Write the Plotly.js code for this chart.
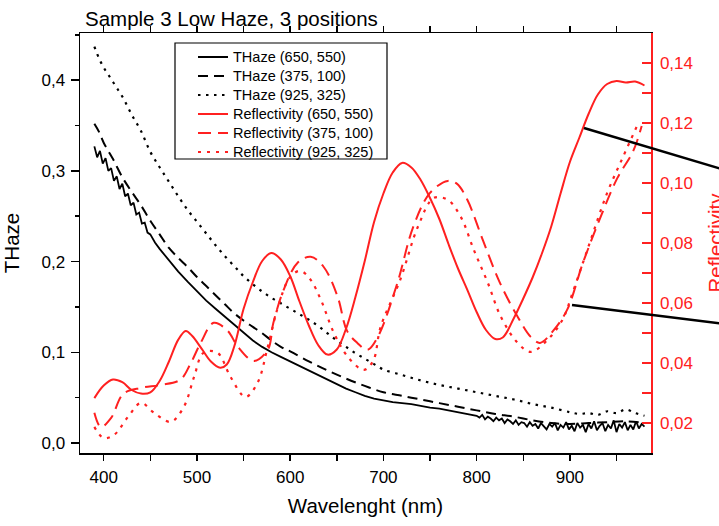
<!DOCTYPE html>
<html>
<head>
<meta charset="utf-8">
<script src="https://cdn.plot.ly/plotly-3.0.1.min.js"></script>
<style>
  html, body { margin: 0; padding: 0; background: #ffffff; overflow: hidden; }
  #chart { width: 730px; height: 526px; }
</style>
</head>
<body>
<div id="chart"></div>
<script>
// ---------- Data ----------
// THaze (650, 550) - solid black, noisy at both ends
const wlHazeSolid = [390,393,396,399,402,405,408,411,414,417,420,423,426,429,432,435,438,441,444,447,450,455,460,
  470,480,490,500,510,520,530,540,550,560,570,580,590,600,610,620,630,640,650,660,670,680,690,700,710,720,730,740,
  750,760,770,780,790,800,803,806,809,812,815,818,821,824,827,830,833,836,839,842,845,848,851,854,857,860,863,866,
  869,872,875,878,881,884,887,890,893,896,899,902,905,908,911,914,917,920,923,926,929,932,935,938,941,944,947,950,
  953,956,959,962,965,968,971,974,977,980];
const hazeSolid = [0.327,0.315,0.322,0.308,0.314,0.300,0.303,0.289,0.294,0.280,0.286,0.272,0.275,0.262,0.265,0.252,0.254,0.242,0.243,0.232,0.230,0.221,0.214,
  0.201,0.189,0.178,0.167,0.157,0.148,0.139,0.130,0.121,0.113,0.106,0.100,0.095,0.090,0.085,0.080,0.075,0.070,0.065,0.060,0.056,0.052,0.049,0.047,0.045,0.044,0.043,0.041,
  0.039,0.038,0.036,0.034,0.032,0.030,0.028,0.031,0.026,0.029,0.027,0.024,0.028,0.025,0.027,0.022,0.026,0.024,0.021,0.025,0.020,0.023,0.022,0.018,0.023,0.019,0.021,0.016,
  0.022,0.019,0.015,0.021,0.018,0.022,0.014,0.020,0.017,0.023,0.015,0.019,0.013,0.022,0.017,0.020,0.012,0.021,0.016,0.024,0.014,0.019,0.022,0.013,0.020,0.016,0.025,0.012,
  0.021,0.017,0.023,0.014,0.020,0.015,0.024,0.016,0.021,0.018];

// THaze (375, 100) - dashed black
const wlHazeDash = [390,395,400,405,410,420,430,440,450,460,470,480,490,500,510,520,530,540,550,560,570,580,590,600,
  620,640,660,680,700,720,740,760,780,800,820,840,860,880,900,920,940,960,980];
const hazeDash = [0.352,0.343,0.331,0.322,0.313,0.293,0.277,0.262,0.245,0.230,0.215,0.204,0.194,0.183,0.173,0.163,0.153,0.143,0.135,0.128,0.121,0.113,0.106,0.101,
  0.090,0.080,0.071,0.063,0.056,0.052,0.048,0.044,0.040,0.036,0.032,0.029,0.025,0.022,0.021,0.022,0.023,0.024,0.022];

// THaze (925, 325) - dotted black
const wlHazeDot = [390,395,400,405,410,415,420,430,440,450,460,470,480,490,500,510,520,530,540,550,560,570,580,590,600,
  610,620,630,640,650,660,670,680,690,700,720,740,760,780,800,820,840,860,880,900,910,920,930,940,950,960,970,980];
const hazeDot = [0.437,0.424,0.414,0.406,0.398,0.390,0.382,0.362,0.344,0.321,0.304,0.288,0.272,0.257,0.244,0.231,0.218,0.206,0.195,0.184,0.175,0.167,0.160,0.154,0.148,
  0.142,0.136,0.129,0.121,0.113,0.106,0.099,0.093,0.087,0.081,0.075,0.069,0.064,0.060,0.056,0.052,0.048,0.043,0.039,0.034,0.032,0.033,0.031,0.035,0.033,0.037,0.033,0.030];

// Reflectivity (650, 550) - solid red
const wlReflSolid = [390,400,410,420,430,440,450,460,470,480,488,495,505,515,525,532,540,550,560,570,580,590,600,610,620,630,640,650,
  660,670,680,690,700,710,720,730,740,750,760,770,780,790,800,810,820,828,840,850,860,870,880,890,900,910,920,930,940,950,960,970,980];
const reflSolid = [0.0283,0.0325,0.0345,0.0336,0.0310,0.0298,0.0302,0.0340,0.0405,0.0478,0.0507,0.0490,0.0448,0.0405,0.0384,0.0395,0.0455,0.0580,0.0670,0.0740,0.0767,0.0745,0.0690,0.0605,0.0525,0.0460,0.0428,0.0445,
  0.0515,0.0620,0.0740,0.0870,0.0965,0.1035,0.1067,0.1052,0.1010,0.0950,0.0880,0.0795,0.0715,0.0644,0.0570,0.0510,0.0480,0.0485,0.0550,0.0615,0.0685,0.0765,0.0855,0.0965,0.1070,0.1150,0.1230,0.1295,0.1330,0.1340,0.1335,0.1338,0.1325];

// Reflectivity (375, 100) - dashed red
const wlReflDash = [390,397,408,421,440,461,482,493,504,518,533,544,561,576,582,593,608,622,636,651,661,672,683,694,
  715,732,750,769,779,790,807,825,844,858,868,882,897,914,933,951,968,977];
const reflDash = [0.0234,0.0187,0.0217,0.0297,0.0317,0.0327,0.0344,0.0397,0.0467,0.0534,0.0507,0.0454,0.0407,0.0444,0.0534,0.0644,0.0734,0.0754,0.0720,0.0620,0.0507,0.0467,0.0444,0.0487,
  0.0667,0.0854,0.0967,0.1007,0.0997,0.0944,0.0807,0.0667,0.0554,0.0487,0.0467,0.0507,0.0577,0.0734,0.0887,0.1017,0.1107,0.1190];

// Reflectivity (925, 325) - dotted red
const wlReflDot = [390,400,411,426,440,454,472,486,497,507,522,536,552,565,576,587,600,611,622,633,647,662,679,689,
  697,718,737,754,769,783,797,812,826,844,858,876,892,904,922,940,957,973];
const reflDot = [0.0187,0.0150,0.0160,0.0220,0.0267,0.0234,0.0204,0.0254,0.0354,0.0434,0.0434,0.0354,0.0287,0.0334,0.0454,0.0587,0.0687,0.0707,0.0677,0.0610,0.0500,0.0420,0.0377,0.0407,
  0.0520,0.0677,0.0854,0.0950,0.0944,0.0887,0.0777,0.0667,0.0554,0.0467,0.0437,0.0477,0.0544,0.0644,0.0807,0.0967,0.1087,0.1197];

const seriesNames = ['THaze (650, 550)','THaze (375, 100)','THaze (925, 325)',
  'Reflectivity (650, 550)','Reflectivity (375, 100)','Reflectivity (925, 325)'];

// ---------- Styling ----------
const RED = '#ff2020';
const FONT = 'Liberation Sans, Arial, Helvetica, sans-serif';
const legendLabel = s => '<span style="font-size:14.5px">' + s + '</span>';

const traces = [
  {x: wlHazeSolid, y: hazeSolid, name: legendLabel(seriesNames[0]), mode:'lines',
   line:{color:'#000', width:1.8}},
  {x: wlHazeDash, y: hazeDash, name: legendLabel(seriesNames[1]), mode:'lines',
   line:{color:'#000', width:2, dash:'10px,6px', shape:'spline'}},
  {x: wlHazeDot, y: hazeDot, name: legendLabel(seriesNames[2]), mode:'lines',
   line:{color:'#000', width:2.2, dash:'2.5px,5.5px', shape:'spline'}},
  {x: wlReflSolid, y: reflSolid, name: legendLabel(seriesNames[3]), mode:'lines', yaxis:'y2',
   line:{color:RED, width:2, shape:'spline'}},
  {x: wlReflDash, y: reflDash, name: legendLabel(seriesNames[4]), mode:'lines', yaxis:'y2',
   line:{color:RED, width:2, dash:'13px,7px', shape:'spline'}},
  {x: wlReflDot, y: reflDot, name: legendLabel(seriesNames[5]), mode:'lines', yaxis:'y2',
   line:{color:RED, width:2.2, dash:'3px,6px', shape:'spline'}}
];

// The original figure is cropped on its right side: the page is 719 px wide,
// the figure is a little wider so its right axis title is cut by the window edge.
const W = 730, H = 526;
const L = 80, R = 79, T = 33, B = 73;
const pw = W - L - R, ph = H - T - B;
const px = v => (v - L) / pw;       // pixel -> paper x
const py = v => (H - B - v) / ph;   // pixel -> paper y

const layout = {
  width: W, height: H,
  margin: {l: L, r: R, t: T, b: B, pad: 0},
  paper_bgcolor: '#fff', plot_bgcolor: '#fff',
  separators: ', ',
  font: {family: FONT, size: 17, color: '#000'},
  showlegend: true,
  title: {text: 'Sample 3 Low Haze, 3 positions', font: {size: 20.5, family: FONT, color:'#000'},
          xref: 'container', yref: 'container', x: 85 / W, xanchor: 'left', y: 1 - 19 / H, yanchor: 'middle'},
  xaxis: {
    range: [374.6, 987], showgrid: false, zeroline: false,
    showline: true, linecolor: '#000', linewidth: 1.5, mirror: 'ticks',
    ticks: 'outside', ticklen: 6, tickwidth: 1.5, tickcolor: '#000',
    tick0: 400, dtick: 100,
    minor: {dtick: 50, ticks: 'outside', ticklen: 6, tickwidth: 1.5, tickcolor: '#000'},
    tickfont: {size: 17, family: FONT}, ticklabelstandoff: 2,
    title: {text: 'Wavelenght (nm)', font: {size: 20.5, family: FONT}, standoff: 12},
    automargin: false
  },
  yaxis: {
    range: [-0.011, 0.452], showgrid: false, zeroline: false,
    showline: true, linecolor: '#000', linewidth: 1.5,
    ticks: 'outside', ticklen: 8, tickwidth: 1.5, tickcolor: '#000',
    tick0: 0, dtick: 0.1, tickformat: '.1f',
    minor: {dtick: 0.05, ticks: 'outside', ticklen: 4, tickwidth: 1.5, tickcolor: '#000'},
    tickfont: {size: 17, family: FONT}, ticklabelstandoff: 2,
    title: {text: 'THaze', font: {size: 20.5, family: FONT}, standoff: 18},
    automargin: false
  },
  yaxis2: {
    overlaying: 'y', side: 'right',
    range: [0.01, 0.15], showgrid: false, zeroline: false,
    showline: true, linecolor: RED, linewidth: 1.5,
    ticks: 'inside', ticklen: 9, tickwidth: 1.5, tickcolor: RED,
    tick0: 0.02, dtick: 0.02, tickformat: '.2f',
    minor: {dtick: 0.01, ticks: 'inside', ticklen: 9, tickwidth: 1.5, tickcolor: RED},
    tickfont: {size: 17, family: FONT, color: RED}, ticklabelstandoff: 4,
    title: {text: 'Reflectivity', font: {size: 20.5, family: FONT, color: RED}, standoff: 16},
    automargin: false
  },
  legend: {
    x: px(193), y: py(42.5), xanchor: 'left', yanchor: 'top',
    bgcolor: 'rgba(0,0,0,0)', borderwidth: 0,
    font: {size: 11.8, family: FONT, color: '#000'},
    itemclick: false, itemdoubleclick: false
  },
  shapes: [
    // legend frame
    {type: 'rect', xref: 'paper', yref: 'paper', x0: px(175), x1: px(387), y0: py(159), y1: py(43),
     line: {color: '#000', width: 1.2}, fillcolor: 'rgba(0,0,0,0)', layer: 'above'},
    // callout lines (they run off the cropped right edge)
    {type: 'line', xref: 'paper', yref: 'paper', x0: px(584), y0: py(128), x1: px(725), y1: py(170),
     line: {color: '#000', width: 2.5}},
    {type: 'line', xref: 'paper', yref: 'paper', x0: px(572), y0: py(305), x1: px(725), y1: py(324),
     line: {color: '#000', width: 2.5}}
  ]
};

Plotly.newPlot('chart', traces, layout, {staticPlot: true, displayModeBar: false});
</script>
</body>
</html>
